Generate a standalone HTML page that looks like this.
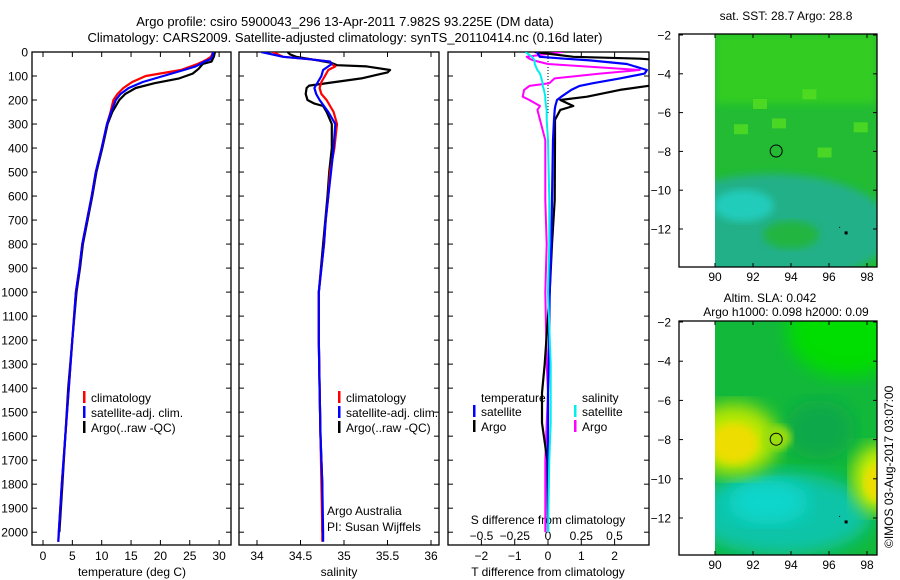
<!DOCTYPE html>
<html><head><meta charset="utf-8"><style>
html,body{margin:0;padding:0;background:#fff;}
svg{display:block;font-family:"Liberation Sans",sans-serif;}
</style></head><body>
<svg id="chart" width="900" height="580" viewBox="0 0 900 580" xmlns="http://www.w3.org/2000/svg">
<defs>
<clipPath id="c1"><rect x="32" y="52" width="199" height="493"/></clipPath>
<clipPath id="c2"><rect x="239" y="52" width="200" height="493"/></clipPath>
<clipPath id="c3"><rect x="448" y="52" width="201" height="493"/></clipPath>
<clipPath id="cm1"><rect x="715" y="34" width="162" height="233"/></clipPath>
<clipPath id="cm2"><rect x="715" y="321" width="162" height="234"/></clipPath>
<filter id="blur6"><feGaussianBlur stdDeviation="9"/></filter>
<filter id="blur3"><feGaussianBlur stdDeviation="4"/></filter>
</defs>
<text x="345" y="26" text-anchor="middle" font-size="13">Argo profile: csiro 5900043_296 13-Apr-2011 7.982S 93.225E (DM data)</text>
<text x="345" y="42" text-anchor="middle" font-size="13">Climatology: CARS2009. Satellite-adjusted climatology: synTS_20110414.nc (0.16d later)</text>
<g id="g1"></g>
<g id="g2"></g>
<g id="g3"></g>
<g id="m1"></g>
<g id="m2"></g>
<text transform="translate(893,548) rotate(-90)" font-size="12">©IMOS 03-Aug-2017 03:07:00</text>
</svg>
<script>
// ---- data ----
const depthTicks=[0,100,200,300,400,500,600,700,800,900,1000,1100,1200,1300,1400,1500,1600,1700,1800,1900,2000];
const tempTicks=[0,5,10,15,20,25,30];
const salTicks=[34,34.5,35,35.5,36];
const tdiffTicks=[-2,-1,0,1,2];
const sdiffTicks=[-0.5,-0.25,0,0.25,0.5];
const sdiffTickLabels=["\u22120.5","\u22120.25","0","0.25","0.5"];

const tClimDepth=[0,20,30,40,50,60,75,100,125,150,175,200,250,300,400,500,600,700,800,900,1000,1200,1400,1600,1800,2000,2040];
const tClim=[29,28.6,28,27.2,26.3,25.2,23.5,17.5,15.2,13.7,12.7,12.0,11.5,10.9,10.0,9.0,8.3,7.5,6.7,6.2,5.6,5.0,4.4,3.8,3.2,2.7,2.6];
const tSat=[29,28.8,28.5,27.5,26.8,26,24,20.5,17,14.6,13.2,12.4,11.6,10.9,10.0,9.0,8.3,7.5,6.7,6.2,5.6,5.0,4.4,3.8,3.2,2.7,2.6];
const tArgoDepth=[0,20,40,50,70,90,110,130,150,175,200,250,300,400,500,600,700,800,900,1000,1200,1400,1600,1800,2000];
const tArgo=[29.3,29.1,28.7,27.2,26.5,25.5,23.2,19,15.8,14,13.0,11.8,11.0,10.1,9.1,8.4,7.6,6.8,6.3,5.7,5.0,4.3,3.8,3.3,2.8];

const sClimDepth=[0,20,30,40,50,60,75,100,125,150,175,200,250,300,400,500,600,700,800,900,1000,1200,1400,1600,1800,2000,2040];
const sClim=[34.18,34.3,34.6,34.84,34.86,34.9,34.82,34.78,34.74,34.72,34.74,34.8,34.88,34.92,34.89,34.84,34.82,34.79,34.77,34.74,34.71,34.71,34.72,34.73,34.74,34.75,34.75];
const sSat=[34.05,34.3,34.6,34.84,34.86,34.82,34.76,34.74,34.7,34.66,34.68,34.72,34.82,34.9,34.88,34.85,34.82,34.79,34.77,34.74,34.71,34.71,34.72,34.73,34.75,34.76,34.76];
const sArgoDepth=[0,10,20,30,45,55,60,75,85,110,140,150,175,200,215,225,250,300,400,500,600,800,1000,1200,1400,1600,1800,2000];
const sArgo=[34.35,34.38,34.45,34.62,34.85,34.92,35.26,35.53,35.5,35.2,34.6,34.57,34.56,34.58,34.66,34.76,34.8,34.86,34.86,34.83,34.81,34.76,34.71,34.71,34.72,34.73,34.75,34.75];

const dDepth=[0,20,28,35,50,75,90,110,130,141,158,186,200,225,241,283,367,617,800,1000,1300,1420,1545,1700,2000];
const dTSat=[-0.33,-0.25,0.5,1.26,2.37,2.97,2.9,2.16,1.35,0.95,0.7,0.4,0.27,0.22,0.2,0.18,0.15,0.12,0.1,0.05,0.02,0.0,0.0,0.0,0.0];
const dTArgo=[-0.4,0.76,2.77,3.5,3.5,3.5,3.5,3.5,3.5,3.0,2.16,1.17,0.37,0.76,0.37,0.21,0.21,0.2,0.12,0.05,-0.1,-0.18,-0.18,-0.02,0.0];
const dSArgo=[0.11,-0.16,-0.14,-0.11,0.0,0.69,0.39,0.05,0.01,-0.14,-0.18,-0.19,-0.14,-0.06,-0.08,-0.06,-0.02,-0.02,-0.01,-0.02,-0.01,0.0,-0.01,-0.02,-0.02];
const dSSat=[-0.17,-0.12,-0.11,-0.1,-0.1,-0.08,-0.06,-0.05,-0.04,-0.04,-0.03,-0.02,-0.02,-0.015,-0.01,-0.01,0.0,0.01,0.01,0.0,0.02,0.02,0.02,0.01,0.0];

const lonTicks=[90,92,94,96,98];
const latTicks=[-2,-4,-6,-8,-10,-12];
const argoPos=[93.22,-7.98];
const otherPos=[96.9,-12.2];

// ---- helpers ----
const NS="http://www.w3.org/2000/svg";
function mk(tag,attrs,parent){const e=document.createElementNS(NS,tag);for(const k in attrs)e.setAttribute(k,attrs[k]);parent.appendChild(e);return e;}
const yD=d=>52+d*0.2401;
const xT=v=>43+v*5.87;
const xS=v=>257+(v-34)*87;
const xdT=v=>548+v*33.3;
const xdS=v=>548+v*133;

function panelFrame(g,x0,x1,labels){
  const r=mk('rect',{x:x0,y:52,width:x1-x0,height:493,fill:'none',stroke:'#000','stroke-width':1.3},g);
  
  
  depthTicks.forEach(d=>{
    const y=yD(d);
    mk('line',{x1:x0,x2:x0+5,y1:y,y2:y,stroke:'#000'},g);
    mk('line',{x1:x1-5,x2:x1,y1:y,y2:y,stroke:'#000'},g);
    if(labels){const t=mk('text',{x:28,y:y+4.5,'text-anchor':'end','font-size':12},g);t.textContent=d;
      
      }
  });
}
function xTicks(g,ticks,fx,labels,ly){
  ticks.forEach((v,i)=>{const x=fx(v);
    mk('line',{x1:x,x2:x,y1:545,y2:540,stroke:'#000'},g);
    mk('line',{x1:x,x2:x,y1:52,y2:57,stroke:'#000'},g);
    const t=mk('text',{x:x,y:ly,'text-anchor':'middle','font-size':12},g);t.textContent=labels?labels[i]:(v<0?'\u2212'+(-v):v);
    
    
  });
}
function line(g,depths,vals,fx,color,w,clip,name){
  const pts=depths.map((d,i)=>fx(vals[i]).toFixed(1)+','+yD(d).toFixed(1)).join(' ');
  const p=mk('polyline',{points:pts,fill:'none',stroke:color,'stroke-width':w,'clip-path':'url(#'+clip+')','stroke-linejoin':'round'},g);
  
  
}
function txt(g,x,y,s,size,anchor,name){const t=mk('text',{x:x,y:y,'font-size':size||12,'text-anchor':anchor||'start'},g);t.textContent=s;
  
  return t;}
function legend(g,x,y0,items){
  items.forEach((it,i)=>{const y=y0+i*15;
    mk('rect',{x:x,y:y-6,width:2.5,height:12,fill:it[1]},g);
    txt(g,x+8,y+5,it[0],12,'start','legend-entry');
  });
}

// panel 1
const g1=document.getElementById('g1');
panelFrame(g1,32,231,true);
xTicks(g1,tempTicks,xT,null,560);
txt(g1,132,576,'temperature (deg C)',12,'middle','x-axis-title');
line(g1,tArgoDepth,tArgo,xT,'#000',2.2,'c1','argo-temperature-line');
line(g1,tClimDepth,tClim,xT,'#f00',2.2,'c1','climatology-temperature-line');
line(g1,tClimDepth,tSat,xT,'#00f',2.2,'c1','satellite-temperature-line');
legend(g1,83,397,[['climatology','#f00'],['satellite-adj. clim.','#00f'],['Argo(..raw -QC)','#000']]);

// panel 2
const g2=document.getElementById('g2');
panelFrame(g2,239,439,false);
xTicks(g2,salTicks,xS,null,560);
txt(g2,339,576,'salinity',12,'middle','x-axis-title');
line(g2,sArgoDepth,sArgo,xS,'#000',2.2,'c2','argo-salinity-line');
line(g2,sClimDepth,sClim,xS,'#f00',2.2,'c2','climatology-salinity-line');
line(g2,sClimDepth,sSat,xS,'#00f',2.2,'c2','satellite-salinity-line');
legend(g2,338,397,[['climatology','#f00'],['satellite-adj. clim.','#00f'],['Argo(..raw -QC)','#000']]);
txt(g2,327,515,'Argo Australia',12,'start','institution-label');
txt(g2,327,531,'PI: Susan Wijffels',12,'start','pi-label');

// panel 3
const g3=document.getElementById('g3');
panelFrame(g3,448,649,false);
tdiffTicks.forEach(v=>{const x=xdT(v);mk('line',{x1:x,x2:x,y1:545,y2:540,stroke:'#000'},g3);mk('line',{x1:x,x2:x,y1:52,y2:57,stroke:'#000'},g3);
  const t=txt(g3,x,560,v<0?'\u2212'+(-v):String(v),12,'middle','t-diff-tick-label');});
sdiffTicks.forEach((v,i)=>{txt(g3,xdS(v),540,sdiffTickLabels[i],12,'middle','s-diff-tick-label');});
txt(g3,548,524,'S difference from climatology',12,'middle','s-axis-title');
txt(g3,548,576,'T difference from climatology',12,'middle','t-axis-title');
mk('line',{x1:548,x2:548,y1:52,y2:yD(260),stroke:'#000','stroke-dasharray':'1,2'},g3);
line(g3,dDepth,dSArgo,xdS,'#f0f',2,'c3','argo-salinity-diff-line');
line(g3,dDepth,dTArgo,xdT,'#000',2.2,'c3','argo-temperature-diff-line');
line(g3,dDepth,dTSat,xdT,'#00f',2.2,'c3','satellite-temperature-diff-line');
line(g3,dDepth,dSSat,xdS,'#0ee',2,'c3','satellite-salinity-diff-line');
txt(g3,481,402,'temperature',12,'start','legend-header');
txt(g3,582,402,'salinity',12,'start','legend-header');
legend(g3,473,411,[['satellite','#00f'],['Argo','#000']]);
legend(g3,574,411,[['satellite','#0ee'],['Argo','#f0f']]);

// maps
function map(gid,top,bottom,latTop,pxPerDeg,clip,title,draw){
  const g=document.getElementById(gid);
  const xL=v=>715+(v-90)*19;
  const yL=v=>latTop+(-2-v)*pxPerDeg;
  const inner=mk('g',{'clip-path':'url(#'+clip+')'},g);
  draw(inner,xL,yL);
  mk('rect',{x:679,y:top,width:198,height:bottom-top,fill:'none',stroke:'#000','stroke-width':1.3},g);
  lonTicks.forEach(v=>{const x=xL(v);mk('line',{x1:x,x2:x,y1:bottom,y2:bottom-4,stroke:'#000'},g);mk('line',{x1:x,x2:x,y1:top,y2:top+4,stroke:'#000'},g);
    txt(g,x,bottom+14,String(v),12,'middle','lon-tick-label');});
  latTicks.forEach(v=>{const y=yL(v);mk('line',{x1:679,x2:683,y1:y,y2:y,stroke:'#000'},g);mk('line',{x1:873,x2:877,y1:y,y2:y,stroke:'#000'},g);
    txt(g,671,y+4.5,'\u2212'+(-v),12,'end','lat-tick-label');});
  title.forEach((s,i)=>txt(g,s[1],s[2],s[0],12,'middle','map-title'));
  const c=mk('circle',{cx:xL(argoPos[0]),cy:yL(argoPos[1]),r:6,fill:'none',stroke:'#000','stroke-width':1},g);
  
  
  mk('rect',{x:xL(otherPos[0])-1.5,y:yL(otherPos[1])-1.5,width:3,height:3,fill:'#000'},g);
  mk('rect',{x:xL(otherPos[0])-7,y:yL(otherPos[1])-6,width:1,height:1,fill:'#000'},g);
}
map('m1',34,267,35,19.4,'cm1',[['sat. SST: 28.7 Argo: 28.8',786,20]],(g,xL,yL)=>{
  mk('rect',{x:715,y:34,width:162,height:233,fill:'#22bb33'},g);
  mk('rect',{x:715,y:34,width:162,height:70,fill:'#33cc22',filter:'url(#blur3)'},g);
  [[92,-5.3],[94.6,-4.8],[97.3,-6.5],[95.4,-7.8],[91,-6.6],[93,-6.3]].forEach(p=>mk('rect',{x:xL(p[0]),y:yL(p[1]),width:14,height:10,fill:'#55dd22',opacity:0.8},g));
  mk('ellipse',{cx:xL(93),cy:yL(-12),rx:120,ry:55,fill:'#22b088',filter:'url(#blur3)'},g);
  mk('ellipse',{cx:xL(91.5),cy:yL(-10.8),rx:30,ry:16,fill:'#22ccbb',filter:'url(#blur3)'},g);
  mk('ellipse',{cx:xL(94),cy:yL(-12.3),rx:28,ry:14,fill:'#22b540',filter:'url(#blur3)'},g);
});
map('m2',321,555,322,19.6,'cm2',[['Altim. SLA: 0.042',770,302],['Argo h1000: 0.098 h2000: 0.09',786,316]],(g,xL,yL)=>{
  mk('rect',{x:715,y:321,width:162,height:234,fill:'#11b83a'},g);
  mk('ellipse',{cx:xL(97),cy:yL(-2.5),rx:60,ry:45,fill:'#00dd00',filter:'url(#blur6)'},g);
  mk('ellipse',{cx:xL(95.5),cy:yL(-7.5),rx:35,ry:30,fill:'#10a848',filter:'url(#blur6)'},g);
  mk('ellipse',{cx:xL(93.5),cy:yL(-11.8),rx:90,ry:42,fill:'#11c4a8',filter:'url(#blur6)'},g);
  mk('ellipse',{cx:xL(92.8),cy:yL(-11.2),rx:40,ry:22,fill:'#11d6cc',filter:'url(#blur6)'},g);
  mk('ellipse',{cx:xL(91),cy:yL(-8),rx:44,ry:36,fill:'#bbe800',filter:'url(#blur6)'},g);
  mk('ellipse',{cx:xL(91),cy:yL(-8.2),rx:24,ry:20,fill:'#eedd00',filter:'url(#blur3)'},g);
  mk('ellipse',{cx:xL(93.3),cy:yL(-7.9),rx:14,ry:12,fill:'#99dd11',filter:'url(#blur3)'},g);
  mk('ellipse',{cx:xL(98.6),cy:yL(-10),rx:26,ry:34,fill:'#ccee00',filter:'url(#blur6)'},g);
  mk('ellipse',{cx:xL(98.5),cy:yL(-10.2),rx:12,ry:18,fill:'#eedd00',filter:'url(#blur3)'},g);
});
</script>
</body></html>
